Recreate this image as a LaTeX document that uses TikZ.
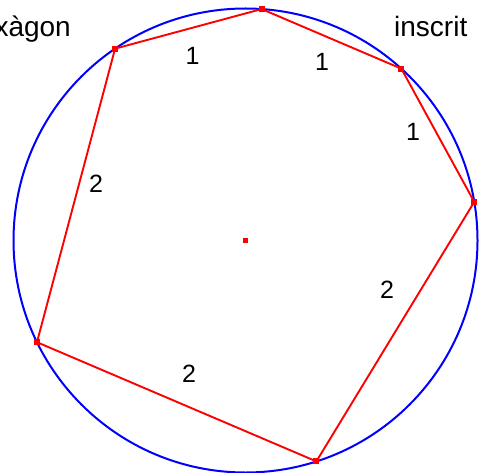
\documentclass[tikz,border=0pt]{standalone}
\usepackage{fontspec}
\setmainfont{Liberation Sans}
\usetikzlibrary{calc}
\begin{document}
\begin{tikzpicture}[x=1pt,y=1pt,
  circ/.style={draw=blue,line width=2pt},
  side/.style={draw=red,line width=1.9pt},
  vmark/.style={fill=red,inner sep=0pt,minimum size=6pt,rectangle},
  lbl/.style={font=\fontsize{25}{30}\selectfont,inner sep=0pt},
  ttl/.style={font=\fontsize{28}{33}\selectfont,inner sep=0pt}]
\useasboundingbox (0,0) rectangle (479,472);
\coordinate (O) at (245.5,231.5);
\draw[circ] (O) circle (232);
\coordinate (B) at ($(O)+(86:232)$);
\coordinate (A) at ($(O)+(124.21:232)$);
\coordinate (C) at ($(O)+(47.79:232)$);
\coordinate (D) at ($(O)+(9.58:232)$);
\coordinate (E) at ($(O)+(-72.21:232)$);
\coordinate (F) at ($(O)+(206.0:232)$);
\draw[side] (A) -- (B) -- (C) -- (D) -- (E) -- (F) -- cycle;
\foreach \v in {A,B,C,D,E,F}{\node[vmark] (m\v) at (\v) {};}
\node[vmark,minimum size=5pt] (mO) at (O) {};
\node[lbl] (l1) at (192.5,416.3) {1};
\node[lbl] (l2) at (322,410) {1};
\node[lbl] (l3) at (413,340) {1};
\node[lbl] (l4) at (96,288) {2};
\node[lbl] (l5) at (387,182) {2};
\node[lbl] (l6) at (189,98) {2};
\node[ttl,anchor=base east] (t1) at (71,435) {Hexàgon};
\node[ttl,anchor=base west] (t2) at (394,435) {inscrit};
\end{tikzpicture}
\end{document}
